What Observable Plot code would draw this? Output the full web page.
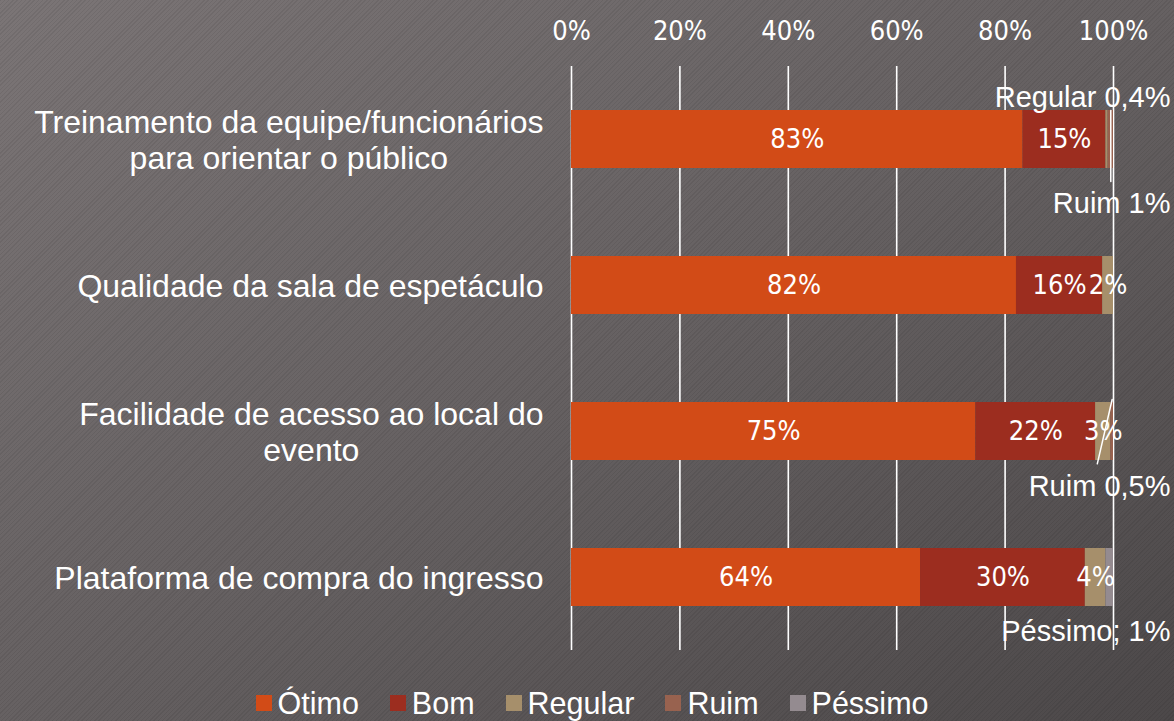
<!DOCTYPE html>
<html>
<head>
<meta charset="utf-8">
<script src="https://cdn.jsdelivr.net/npm/d3@7"></script>
<script src="https://cdn.jsdelivr.net/npm/@observablehq/plot@0.6"></script>
<style>
  html, body { margin: 0; padding: 0; width: 1174px; height: 721px; overflow: hidden; }
  body {
    background:
      repeating-linear-gradient(135deg, rgba(0,0,0,0.07) 0px, rgba(0,0,0,0.07) 1px, rgba(255,255,255,0.0) 1px, rgba(255,255,255,0.0) 3px),
      linear-gradient(to bottom right, #7b7576 0%, #666162 50%, #4c4849 100%);
  }
  #chart svg { display: block; background: transparent; }
  #legend { height: 46px; padding-left: 10px; padding-top: 8px; }
  #legend > div { display: flex; justify-content: center; align-items: center; margin: 0; height: 40px; }
  #legend [class*="swatch"]:not([class*="swatches"]) { margin-right: 31px !important; display: inline-flex; align-items: center; }
  #legend [class*="swatch"]:not([class*="swatches"]):last-child { margin-right: 0 !important; }
  #legend [class*="swatch"]:not([class*="swatches"]) > svg { margin-right: 6px !important; }
</style>
</head>
<body>
<div id="chart"></div>
<div id="legend"></div>
<script>
// ---- data ----
const questions = [
  "Treinamento da equipe/funcionários\npara orientar o público",
  "Qualidade da sala de espetáculo",
  "Facilidade de acesso ao local do\nevento",
  "Plataforma de compra do ingresso"
];
const seriesNames = ["Ótimo", "Bom", "Regular", "Ruim", "Péssimo"];
const seriesColors = ["#d24b17", "#9c2d1f", "#a68f6b", "#98624f", "#948b90"];
const otimo   = [83.3, 82.1, 74.6, 64.4];
const bom     = [15.3, 15.9, 22.1, 30.4];
const regular = [0.4, 2.0, 2.8, 3.8];
const ruim    = [1.0, 0, 0.5, 0];
const pessimo = [0, 0, 0, 1.4];
const xTicks = [0, 20, 40, 60, 80, 100];
const callouts = [
  {q: 0, series: "Regular", text: "Regular 0,4%", side: "above"},
  {q: 0, series: "Ruim", text: "Ruim 1%", side: "below"},
  {q: 2, series: "Ruim", text: "Ruim 0,5%", side: "below"},
  {q: 3, series: "Péssimo", text: "Péssimo; 1%", side: "below"}
];

// ---- build table ----
const valuesBySeries = [otimo, bom, regular, ruim, pessimo];
const table = [];
questions.forEach((q, i) => seriesNames.forEach((s, j) => table.push({question: q, series: s, value: valuesBySeries[j][i]})));
function segStart(qi, sname) {
  const j = seriesNames.indexOf(sname);
  let c = 0; for (let k = 0; k < j; k++) c += valuesBySeries[k][qi];
  return c;
}
function segMid(qi, sname) {
  const j = seriesNames.indexOf(sname);
  return segStart(qi, sname) + valuesBySeries[j][qi] / 2;
}

const fontNarrow = "'Liberation Sans Narrow', 'DejaVu Sans Condensed', sans-serif";
const fontMain = "'Liberation Sans', Arial, sans-serif";

const lineShape = {draw(context, l) { context.moveTo(0, 0); context.lineTo(0, -l); }};

const calloutDy = [-42, 64, 55, 54];
const calloutMarks = callouts.map((c, i) => Plot.text([c], {
  x: () => 100, y: d => questions[d.q], text: "text", dx: 57, dy: calloutDy[i],
  textAnchor: "end", fill: "white", fontSize: 29, fontFamily: fontMain
}));

// leader lines: row 1 (Ruim) and row 3 (Ruim)
const leaders = [
  {q: 0, series: "Ruim", rotate: 180, length: 71, dy: -29},
  {q: 2, series: "Ruim", rotate: 193, length: 66, dy: -32}
];
const leaderMarks = leaders.map(l => Plot.vector([l], {
  x: d => segMid(d.q, d.series), y: d => questions[d.q], rotate: l.rotate, length: l.length,
  anchor: "start", dy: l.dy, shape: lineShape, stroke: "white", strokeWidth: 1.5
}));

const plot = Plot.plot({
  width: 1174,
  height: 675,
  marginLeft: 571,
  marginRight: 61,
  marginTop: 66,
  marginBottom: 25,
  style: {background: "transparent", color: "white", fontFamily: fontMain},
  x: {domain: [0, 100], axis: null},
  y: {domain: questions, axis: null, paddingInner: 0.6, paddingOuter: 0.3},
  color: {domain: seriesNames, range: seriesColors},
  marks: [
    Plot.ruleX(xTicks, {stroke: "white", strokeWidth: 1.6}),
    Plot.axisX(xTicks, {anchor: "top", label: null, tickSize: 0, tickPadding: 27, tickFormat: d => d + "%",
      fontSize: 27, fontFamily: fontNarrow, fill: "white"}),
    Plot.barX(table, Plot.stackX({x: "value", y: "question", fill: "series", order: seriesNames})),
    Plot.text(table, Plot.stackX({x: "value", y: "question", z: "series", order: seriesNames,
      text: d => d.value >= 1.95 ? Math.round(d.value) + "%" : null,
      fill: "white", fontSize: 27, fontFamily: fontNarrow})),
    Plot.text(questions, {x: () => 0, y: d => d, text: d => d, dx: -28, textAnchor: "end",
      lineHeight: 1.13, fontSize: 32, fontFamily: fontMain, fill: "white"}),
    ...leaderMarks,
    ...calloutMarks
  ]
});
document.getElementById("chart").appendChild(plot);

// center each line of multi-line category labels within its right-aligned block
plot.querySelectorAll("text").forEach(t => {
  const spans = t.querySelectorAll("tspan");
  if (spans.length > 1) {
    let w = 0;
    spans.forEach(s => { w = Math.max(w, s.getComputedTextLength()); });
    t.setAttribute("text-anchor", "middle");
    spans.forEach(s => s.setAttribute("x", -w / 2));
  }
});

const legend = Plot.legend({
  color: {domain: seriesNames, range: seriesColors},
  swatchSize: 16,
  className: "lg",
  style: {color: "white", fontSize: "30.5px", fontFamily: fontMain, background: "transparent"}
});
document.getElementById("legend").appendChild(legend);
</script>
</body>
</html>
